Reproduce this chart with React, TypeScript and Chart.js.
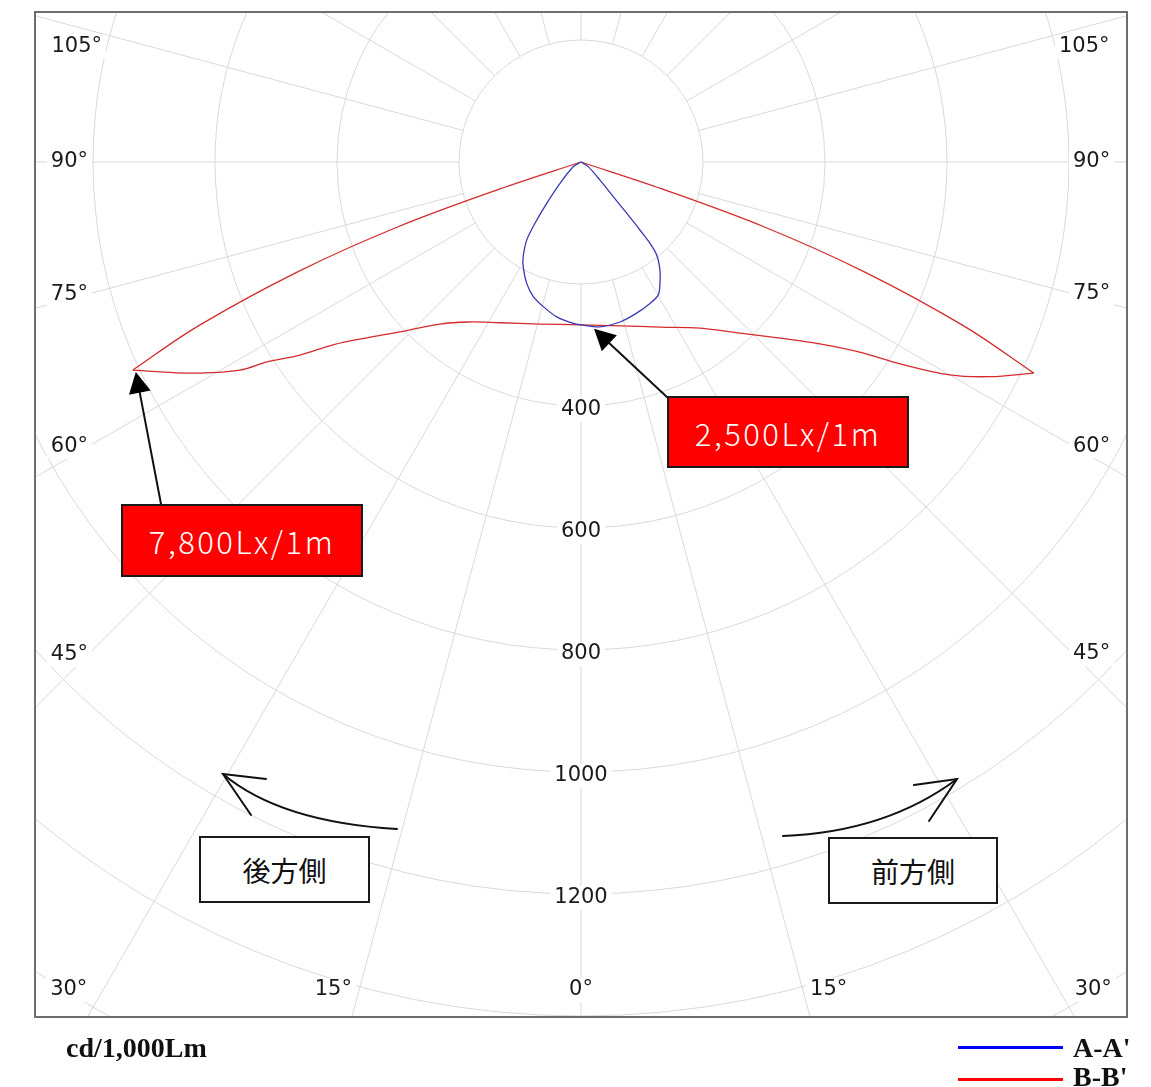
import React, { useEffect, useRef } from "react";
import { Chart, registerables } from "chart.js";

Chart.register(...registerables);

// ---------------- data ----------------
// polar grid
const ringValues = [200, 400, 600, 800, 1000, 1200, 1400, 1600, 1800, 2000, 2200];
const ringTickLabels = ["400", "600", "800", "1000", "1200"];
const angleTicks = [-105, -90, -75, -60, -45, -30, -15, 0, 15, 30, 45, 60, 75, 90, 105];
const angleTickLabels = ["105°", "90°", "75°", "60°", "45°", "30°", "15°", "0°", "15°", "30°", "45°", "60°", "75°", "90°", "105°"];
const gridAngleStep = 15;

// value range of the frame (cd/1,000Lm)
const xRangeHalf = 895.08;
const yRangeTop = 245.9;
const yRangeBottom = -1401.64;

// series A-A' (angle in degrees, negative = 後方側, positive = 前方側)
const seriesAAngles = [-65, -58.6, -44.6, -39.7, -36.9, -34.8, -31.4, -28.9, -24.1, -19.5, -14.6, -8.9, -2.7, 0, 6.6, 13.7, 20.2, 26.0, 30.2, 33.1, 36.2, 39.1, 40.3, 40.9, 41.7, 43.0, 46.5, 57.2, 65];
const seriesAValues = [0, 15, 49, 88, 126, 156, 182, 196, 218, 234, 245, 257, 265, 267, 272, 270, 264, 258, 252, 237, 219, 197, 175, 148, 113, 78, 43, 14, 0];

// series B-B'
const seriesBAngles = [-75, -71.6, -70.5, -68.8, -66.8, -65.1, -63.5, -61.0, -58.6, -57.5, -55.5, -53.6, -50.6, -46.8, -41.0, -35.2, -26.7, -14.2, 0, 13.4, 25.6, 35.6, 42.9, 48.5, 52.7, 55.7, 57.7, 60.0, 62.3, 65.0, 66.8, 68.8, 70.5, 71.6, 75];
const seriesBValues = [0, 140, 318, 500, 684, 810, 771, 714, 655, 610, 559, 505, 454, 407, 352, 321, 295, 274, 267, 276, 300, 335, 383, 436, 492, 553, 619, 698, 757, 819, 684, 500, 318, 140, 0];

const seriesNames = ["A-A'", "B-B'"];
const unitLabel = "cd/1,000Lm";
const annotationLabels = ["7,800Lx/1m", "2,500Lx/1m"];
const sideLabels = ["後方側", "前方側"];

// ---------------- styles ----------------
const colorA = "#3838b4";
const colorB = "#d42c2c";
const gridColor = "#d9d9d9";
const tickFont = '21px "DejaVu Sans", Verdana, sans-serif';

const rad = (d: number) => (d * Math.PI) / 180;
const toXY = (angles: number[], values: number[]) =>
  angles.map((a, i) => ({ x: values[i] * Math.sin(rad(a)), y: -values[i] * Math.cos(rad(a)) }));

function polarPx(chart: any, deg: number, val: number) {
  const xs = chart.scales.x;
  const ys = chart.scales.y;
  return {
    x: xs.getPixelForValue(val * Math.sin(rad(deg))),
    y: ys.getPixelForValue(-val * Math.cos(rad(deg))),
  };
}

function labelWithBg(ctx: CanvasRenderingContext2D, text: string, x: number, y: number, align: "left" | "right" | "center") {
  ctx.font = tickFont;
  const w = ctx.measureText(text).width;
  let left = x;
  if (align === "right") left = x - w;
  if (align === "center") left = x - w / 2;
  ctx.fillStyle = "#ffffff";
  ctx.fillRect(left - 4, y - 12, w + 8, 24);
  ctx.fillStyle = "#1a1a1a";
  ctx.textAlign = "left";
  ctx.textBaseline = "middle";
  ctx.fillText(text, left, y);
}

const polarGrid = {
  id: "polarGrid",
  beforeDatasetsDraw(chart: any) {
    const { ctx, chartArea: a } = chart;
    const c = polarPx(chart, 0, 0);
    const pxPer = (v: number) => polarPx(chart, 90, v).x - c.x;
    ctx.save();
    ctx.beginPath();
    ctx.rect(a.left, a.top, a.right - a.left, a.bottom - a.top);
    ctx.clip();
    ctx.strokeStyle = gridColor;
    ctx.lineWidth = 1;
    ringValues.forEach((v) => {
      ctx.beginPath();
      ctx.arc(c.x, c.y, pxPer(v), 0, Math.PI * 2);
      ctx.stroke();
    });
    for (let d = 0; d < 360; d += gridAngleStep) {
      const p0 = polarPx(chart, d, ringValues[0]);
      const p1 = polarPx(chart, d, ringValues[ringValues.length - 1] * 2);
      ctx.beginPath();
      ctx.moveTo(p0.x, p0.y);
      ctx.lineTo(p1.x, p1.y);
      ctx.stroke();
    }
    // ring labels along 0°
    ringTickLabels.forEach((t) => {
      const p = polarPx(chart, 0, Number(t));
      labelWithBg(ctx, t, p.x, p.y + 4, "center");
    });
    // angle labels
    angleTicks.forEach((deg, i) => {
      const s = Math.sin(rad(deg));
      const co = Math.cos(rad(deg));
      const t = angleTickLabels[i];
      const tb = co > 0 ? (a.bottom - c.y) / co : Infinity;
      const ts = s !== 0 ? (s > 0 ? a.right - c.x : c.x - a.left) / Math.abs(s) : Infinity;
      if (tb <= ts) {
        const x = c.x + tb * s;
        const align = deg < 0 ? "right" : deg > 0 ? "left" : "center";
        labelWithBg(ctx, t, x, a.bottom - 27, align);
      } else {
        let ax = deg < 0 ? a.left + 53 : a.right - 54;
        let y = c.y + (Math.abs(ax - c.x) * co) / Math.abs(s);
        if (y < a.top + 35) {
          y = a.top + 35;
          ax += deg < 0 ? 14 : -14;
        }
        labelWithBg(ctx, t, ax, y, deg < 0 ? "right" : "left");
      }
    });
    ctx.restore();
  },
};

function arrow(ctx: CanvasRenderingContext2D, fx: number, fy: number, tx: number, ty: number) {
  const dx = tx - fx;
  const dy = ty - fy;
  const len = Math.hypot(dx, dy);
  const ux = dx / len;
  const uy = dy / len;
  const hl = 21;
  const hw = 11;
  const bx = tx - ux * hl;
  const by = ty - uy * hl;
  ctx.beginPath();
  ctx.moveTo(fx, fy);
  ctx.lineTo(bx, by);
  ctx.stroke();
  ctx.beginPath();
  ctx.moveTo(tx, ty);
  ctx.lineTo(bx - uy * hw, by + ux * hw);
  ctx.lineTo(bx + uy * hw, by - ux * hw);
  ctx.closePath();
  ctx.fill();
}

const overlay = {
  id: "overlay",
  afterDraw(chart: any) {
    const { ctx, chartArea: a } = chart;
    ctx.save();
    // frame
    ctx.strokeStyle = "#6e6e6e";
    ctx.lineWidth = 2;
    ctx.strokeRect(a.left, a.top, a.right - a.left, a.bottom - a.top);

    ctx.strokeStyle = "#111";
    ctx.fillStyle = "#000";
    ctx.lineWidth = 2;
    ctx.lineCap = "round";
    // arrow to B-B' peak on the 後方側
    let maxI = 0;
    seriesBAngles.forEach((ang, i) => {
      if (ang < 0 && seriesBValues[i] > seriesBValues[maxI]) maxI = i;
    });
    const pk = polarPx(chart, seriesBAngles[maxI], seriesBValues[maxI]);
    arrow(ctx, 161, 504, pk.x + 3, pk.y + 2);
    // arrow to A-A' at 0°
    const i0 = seriesAAngles.indexOf(0);
    const p0 = polarPx(chart, 0, seriesAValues[i0]);
    arrow(ctx, 668, 398, p0.x + 13, p0.y + 4);

    // curved arrows
    ctx.beginPath();
    ctx.moveTo(397, 829);
    ctx.quadraticCurveTo(280, 822, 223, 774);
    ctx.stroke();
    ctx.beginPath();
    ctx.moveTo(266, 779);
    ctx.lineTo(223, 774);
    ctx.lineTo(251, 815);
    ctx.stroke();

    ctx.beginPath();
    ctx.moveTo(783, 836);
    ctx.quadraticCurveTo(886, 832, 957, 779);
    ctx.stroke();
    ctx.beginPath();
    ctx.moveTo(914, 785);
    ctx.lineTo(957, 779);
    ctx.lineTo(929, 821);
    ctx.stroke();
    ctx.restore();
  },
};

// B-B' is drawn in three smooth runs split at its two sharp peaks
function splitAtPeaks(angles: number[], values: number[]) {
  let li = 0;
  let ri = 0;
  angles.forEach((a, i) => {
    if (a < 0 && values[i] > values[li]) li = i;
    if (a > 0 && values[i] > values[ri]) ri = i;
  });
  const pts = toXY(angles, values);
  return [pts.slice(0, li + 1), pts.slice(li, ri + 1), pts.slice(ri)];
}

const redBox: React.CSSProperties = {
  position: "absolute",
  boxSizing: "border-box",
  border: "2px solid #1a1a1a",
  background: "#ff0000",
  color: "#ffffff",
  display: "flex",
  alignItems: "center",
  justifyContent: "center",
  fontFamily: '"Noto Sans CJK JP", "Noto Sans", sans-serif',
  fontWeight: 300,
  fontSize: 31,
  letterSpacing: "2.5px",
  lineHeight: 1,
};

const whiteBox: React.CSSProperties = {
  position: "absolute",
  boxSizing: "border-box",
  border: "2px solid #1a1a1a",
  background: "#ffffff",
  color: "#111",
  display: "flex",
  alignItems: "center",
  justifyContent: "center",
  fontFamily: '"Noto Sans CJK JP", sans-serif',
  fontSize: 28,
  lineHeight: 1,
};

const serifText: React.CSSProperties = {
  position: "absolute",
  fontFamily: '"Liberation Serif", "Times New Roman", serif',
  fontWeight: "bold",
  fontSize: 28,
  lineHeight: "28px",
  color: "#111",
  whiteSpace: "nowrap",
};

export default function App() {
  const ref = useRef<HTMLCanvasElement | null>(null);
  useEffect(() => {
    if (!ref.current) return;
    const bRuns = splitAtPeaks(seriesBAngles, seriesBValues);
    const chart = new Chart(ref.current, {
      type: "scatter",
      data: {
        datasets: [
          {
            label: seriesNames[0],
            data: toXY(seriesAAngles, seriesAValues),
            showLine: true,
            borderColor: colorA,
            backgroundColor: colorA,
            borderWidth: 1.3,
            pointRadius: 0,
            tension: 0.3,
            fill: false,
          },
          ...bRuns.map((run) => ({
            label: seriesNames[1],
            data: run,
            showLine: true,
            borderColor: colorB,
            backgroundColor: colorB,
            borderWidth: 1.3,
            pointRadius: 0,
            tension: 0.35,
            fill: false,
          })),
        ],
      },
      options: {
        animation: false,
        responsive: false,
        devicePixelRatio: 1,
        events: [],
        layout: { padding: { left: 35, top: 12, right: 24, bottom: 70 } },
        scales: {
          x: { type: "linear", min: -xRangeHalf, max: xRangeHalf, display: false },
          y: { type: "linear", min: yRangeBottom, max: yRangeTop, display: false },
        },
        plugins: { legend: { display: false }, tooltip: { enabled: false }, title: { display: false } },
      },
      plugins: [polarGrid, overlay],
    });
    return () => chart.destroy();
  }, []);

  return (
    <div style={{ position: "fixed", left: 0, top: 0, width: 1151, height: 1087, background: "#fff", overflow: "hidden" }}>
      <canvas ref={ref} width={1151} height={1087} style={{ display: "block", width: 1151, height: 1087 }} />
      <div style={{ ...redBox, left: 121, top: 504, width: 242, height: 73 }}>{annotationLabels[0]}</div>
      <div style={{ ...redBox, left: 667, top: 396, width: 242, height: 72 }}>{annotationLabels[1]}</div>
      <div style={{ ...whiteBox, left: 199, top: 836, width: 171, height: 67 }}>{sideLabels[0]}</div>
      <div style={{ ...whiteBox, left: 828, top: 837, width: 170, height: 67 }}>{sideLabels[1]}</div>
      <div style={{ ...serifText, left: 66, top: 1034 }}>{unitLabel}</div>
      <div style={{ position: "absolute", left: 958, top: 1046, width: 105, height: 3, background: "#0000ff" }} />
      <div style={{ ...serifText, left: 1073, top: 1034 }}>{seriesNames[0]}</div>
      <div style={{ position: "absolute", left: 958, top: 1078, width: 105, height: 3, background: "#ff0000" }} />
      <div style={{ ...serifText, left: 1073, top: 1063 }}>{seriesNames[1]}</div>
    </div>
  );
}
